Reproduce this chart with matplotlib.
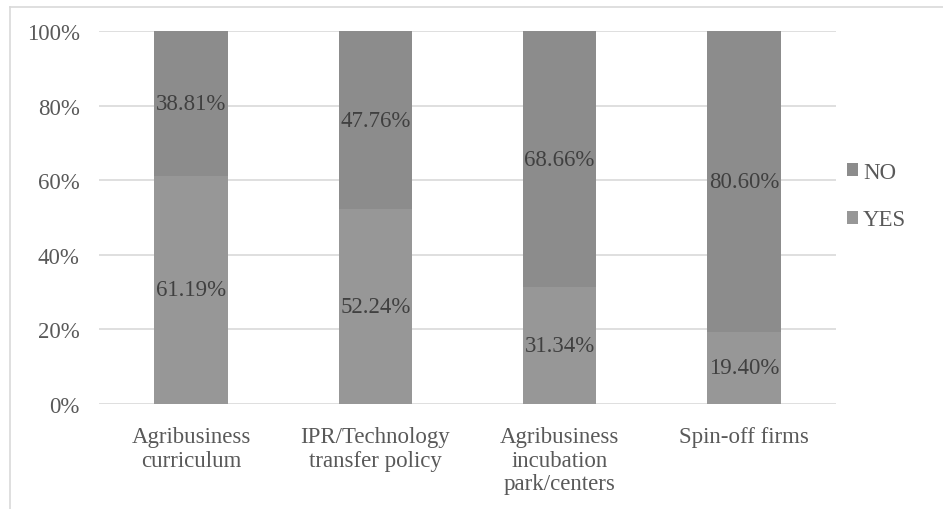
import matplotlib
matplotlib.use("Agg")
import matplotlib.pyplot as plt
from matplotlib.lines import Line2D
import numpy as np

categories = ["Agribusiness\ncurriculum", "IPR/Technology\ntransfer policy",
              "Agribusiness\nincubation\npark/centers", "Spin-off firms"]
yes_values = [61.19, 52.24, 31.34, 19.40]
no_values = [38.81, 47.76, 68.66, 80.60]
yticks = [0, 20, 40, 60, 80, 100]

plt.rcParams['font.family'] = ['Liberation Serif', 'DejaVu Serif']
FS = 16.5

fig = plt.figure(figsize=(9.43, 5.10), dpi=100)
W, H = 943, 510
ax = fig.add_axes([99 / W, (H - 405) / H, (836 - 99) / W, (405 - 32) / H])

x = np.arange(len(categories))
yes_col = "#979797"
no_col = "#8c8c8c"
b1 = ax.bar(x, yes_values, width=0.4, color=yes_col, label="YES", zorder=3)
b2 = ax.bar(x, no_values, width=0.4, bottom=yes_values, color=no_col, label="NO", zorder=3)

for i in range(len(categories)):
    ax.text(x[i], yes_values[i] / 2, f"{yes_values[i]:.2f}%", ha="center", va="center",
            fontsize=FS, color="#404040", zorder=4)
    ax.text(x[i], yes_values[i] + no_values[i] / 2, f"{no_values[i]:.2f}%", ha="center",
            va="center", fontsize=FS, color="#404040", zorder=4)

ax.set_xlim(-0.5, len(categories) - 0.5)
ax.set_ylim(0, 100)
ax.set_yticks(yticks)
ax.set_yticklabels([f"{v}%" for v in yticks], fontsize=FS, color="#595959")
ax.set_xticks(x)
ax.set_xticklabels(categories, fontsize=FS, color="#595959", linespacing=1.15)
ax.tick_params(axis="y", length=0, pad=14)
ax.tick_params(axis="x", length=0, pad=16)
ax.grid(axis="y", color="#d9d9d9", linewidth=1.2, zorder=0)
for s in ax.spines.values():
    s.set_visible(False)

handles = [b2, b1]
leg = ax.legend(handles=handles, labels=["NO", "YES"], loc="center left",
                bbox_to_anchor=(847 / W, (H - 197) / H), bbox_transform=fig.transFigure,
                frameon=False, fontsize=FS, labelcolor="#595959",
                handlelength=0.5, handleheight=0.5, handletextpad=0.2,
                labelspacing=1.15, borderpad=0, borderaxespad=0)

# outer border (light gray)
fig.add_artist(Line2D([10 / W, 10 / W], [0, (H - 8) / H], color="#d9d9d9", linewidth=1.2,
                      transform=fig.transFigure))
fig.add_artist(Line2D([10 / W, 1], [(H - 8) / H, (H - 8) / H], color="#d9d9d9", linewidth=1.2,
                      transform=fig.transFigure))

fig.savefig("out.png", dpi=100)
